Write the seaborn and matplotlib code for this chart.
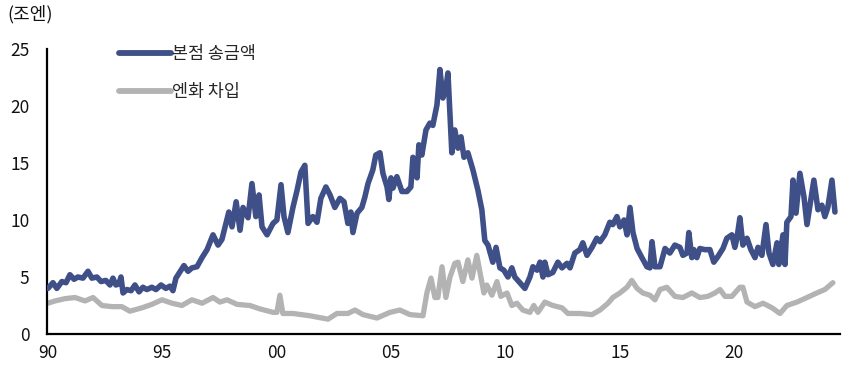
import matplotlib
matplotlib.use("Agg")
import matplotlib.pyplot as plt
import seaborn as sns
import pandas as pd

# 본점 송금액 (조엔)
remit_t = [1990.02, 1990.24, 1990.41, 1990.63, 1990.81, 1990.98, 1991.16, 1991.33, 1991.55, 1991.77,
           1991.94, 1992.16, 1992.34, 1992.55, 1992.73, 1992.86, 1992.99, 1993.12, 1993.21, 1993.30,
           1993.47, 1993.65, 1993.82, 1994.00, 1994.17, 1994.34, 1994.56, 1994.74, 1994.96, 1995.17,
           1995.35, 1995.48, 1995.61, 1995.83, 1995.96, 1996.14, 1996.31, 1996.53, 1996.75, 1996.97,
           1997.23, 1997.45, 1997.62, 1997.92, 1998.06, 1998.24, 1998.41, 1998.54, 1998.76, 1998.93,
           1999.10, 1999.24, 1999.37, 1999.59, 1999.85, 2000.02, 2000.20, 2000.33, 2000.50, 2000.72,
           2000.90, 2001.07, 2001.24, 2001.38, 2001.59, 2001.77, 2001.94, 2002.16, 2002.34, 2002.55,
           2002.77, 2002.95, 2003.12, 2003.25, 2003.34, 2003.52, 2003.73, 2003.86, 2004.00, 2004.21,
           2004.34, 2004.52, 2004.65, 2004.83, 2004.91, 2005.00, 2005.09, 2005.26, 2005.48, 2005.70,
           2005.87, 2005.96, 2006.14, 2006.22, 2006.35, 2006.53, 2006.70, 2006.83, 2007.01, 2007.14,
           2007.27, 2007.40, 2007.49, 2007.66, 2007.79, 2007.93, 2008.06, 2008.19, 2008.36, 2008.58,
           2008.80, 2008.97, 2009.10, 2009.24, 2009.45, 2009.59, 2009.76, 2009.93, 2010.11, 2010.28,
           2010.41, 2010.63, 2010.85, 2011.07, 2011.20, 2011.38, 2011.51, 2011.64, 2011.72, 2011.86,
           2012.07, 2012.29, 2012.47, 2012.69, 2012.82, 2013.03, 2013.25, 2013.38, 2013.56, 2013.78,
           2013.99, 2014.13, 2014.34, 2014.56, 2014.69, 2014.87, 2015.00, 2015.18, 2015.31, 2015.44,
           2015.57, 2015.75, 2015.96, 2016.18, 2016.31, 2016.40, 2016.53, 2016.75, 2016.97, 2017.18,
           2017.40, 2017.62, 2017.75, 2017.93, 2018.01, 2018.14, 2018.23, 2018.36, 2018.49, 2018.71,
           2018.93, 2019.10, 2019.28, 2019.50, 2019.67, 2019.89, 2020.02, 2020.11, 2020.24, 2020.37,
           2020.55, 2020.72, 2020.90, 2021.03, 2021.20, 2021.38, 2021.51, 2021.68, 2021.86, 2021.94,
           2022.12, 2022.21, 2022.29, 2022.47, 2022.56, 2022.69, 2022.86, 2023.04, 2023.17, 2023.34,
           2023.47, 2023.65, 2023.82, 2023.95, 2024.08, 2024.26, 2024.39]
remit_v = [4.0, 4.5, 4.0, 4.6, 4.5, 5.2, 4.8, 5.0, 4.9, 5.5,
           4.9, 5.0, 4.6, 4.7, 4.3, 4.9, 4.3, 4.4, 5.0, 3.6,
           3.9, 3.8, 4.3, 3.7, 4.1, 3.9, 4.1, 3.9, 4.3, 4.0,
           4.2, 3.8, 4.9, 5.6, 6.0, 5.5, 5.8, 5.9, 6.7, 7.4,
           8.7, 7.8, 8.3, 10.7, 9.4, 11.6, 9.1, 11.1, 10.2, 13.2,
           10.3, 12.2, 9.4, 8.7, 9.7, 10.0, 13.1, 10.3, 8.9, 11.1,
           12.6, 14.2, 14.8, 9.7, 10.3, 9.8, 11.9, 12.9, 12.2, 11.1,
           11.9, 11.6, 9.7, 10.7, 8.9, 10.6, 11.1, 12.0, 13.2, 14.4,
           15.7, 15.9, 14.1, 12.9, 11.8, 13.7, 12.8, 13.8, 12.5, 12.5,
           12.9, 15.5, 13.7, 16.6, 15.7, 17.9, 18.5, 18.3, 20.1, 23.2,
           20.7, 21.6, 22.9, 15.9, 17.9, 16.3, 17.3, 15.5, 15.9, 14.4,
           12.6, 10.9, 8.2, 7.8, 6.3, 7.6, 5.8, 5.6, 5.0, 5.8,
           5.0, 4.5, 4.0, 5.0, 5.9, 5.6, 6.3, 5.0, 6.3, 5.2,
           5.4, 6.3, 5.8, 6.2, 5.8, 7.1, 7.4, 8.0, 6.9, 7.6,
           8.4, 8.1, 8.7, 9.8, 9.6, 10.3, 9.4, 10.0, 8.7, 11.1,
           8.9, 7.5, 6.7, 5.9, 5.8, 8.1, 5.9, 5.9, 7.5, 7.1,
           7.8, 7.6, 6.9, 7.1, 8.9, 6.7, 7.4, 6.7, 7.5, 7.4,
           7.4, 6.3, 6.8, 7.5, 8.4, 8.7, 7.6, 8.4, 10.2, 7.8,
           8.4, 7.4, 6.7, 7.6, 6.9, 9.6, 7.1, 6.1, 8.0, 6.1,
           8.7, 6.1, 9.8, 10.3, 13.5, 10.6, 14.1, 12.0, 9.6, 11.8,
           13.5, 10.9, 11.3, 10.3, 11.1, 13.5, 10.7]

# 엔화 차입 (조엔)
loan_t = [1990.02, 1990.33, 1990.76, 1991.20, 1991.64, 1991.99, 1992.38, 1992.82, 1993.25, 1993.60,
          1994.13, 1994.56, 1995.00, 1995.44, 1995.87, 1996.31, 1996.75, 1997.23, 1997.53, 1997.84,
          1998.28, 1998.84, 1999.28, 1999.85, 2000.02, 2000.15, 2000.28, 2000.72, 2001.46, 2002.25,
          2002.64, 2003.12, 2003.43, 2003.78, 2004.39, 2004.96, 2005.39, 2005.83, 2006.40, 2006.57,
          2006.75, 2006.92, 2007.05, 2007.23, 2007.40, 2007.58, 2007.79, 2007.93, 2008.14, 2008.36,
          2008.54, 2008.75, 2008.89, 2009.06, 2009.19, 2009.41, 2009.63, 2009.80, 2010.07, 2010.28,
          2010.50, 2010.76, 2011.07, 2011.24, 2011.42, 2011.72, 2012.07, 2012.47, 2012.73, 2013.25,
          2013.78, 2014.13, 2014.48, 2014.69, 2015.00, 2015.31, 2015.52, 2015.75, 2016.00, 2016.31,
          2016.53, 2016.75, 2017.05, 2017.40, 2017.75, 2018.14, 2018.49, 2018.84, 2019.15, 2019.37,
          2019.59, 2019.89, 2020.24, 2020.37, 2020.55, 2020.90, 2021.25, 2021.64, 2021.99, 2022.29,
          2022.73, 2023.17, 2023.60, 2023.95, 2024.30]
loan_v = [2.7, 2.9, 3.1, 3.2, 2.9, 3.2, 2.5, 2.4, 2.4, 2.0,
          2.3, 2.6, 3.0, 2.7, 2.5, 3.0, 2.7, 3.2, 2.8, 3.0,
          2.6, 2.5, 2.2, 1.9, 1.9, 3.4, 1.8, 1.8, 1.6, 1.3,
          1.8, 1.8, 2.1, 1.7, 1.4, 1.9, 2.1, 1.7, 1.6, 3.6,
          4.9, 3.2, 3.2, 5.9, 3.2, 5.0, 6.2, 6.3, 4.6, 6.5,
          4.9, 6.9, 5.4, 3.6, 4.3, 3.4, 4.6, 3.3, 3.6, 2.5,
          2.7, 2.1, 1.9, 2.5, 1.9, 2.8, 2.5, 2.3, 1.8, 1.8,
          1.7, 2.1, 2.7, 3.2, 3.6, 4.1, 4.7, 4.0, 3.6, 3.4,
          3.0, 3.9, 4.1, 3.3, 3.2, 3.6, 3.2, 3.3, 3.6, 3.9,
          3.3, 3.3, 4.1, 4.1, 2.8, 2.4, 2.7, 2.3, 1.8, 2.5,
          2.8, 3.2, 3.6, 3.9, 4.5]

labels = ["본점 송금액", "엔화 차입"]
colors = ["#3f4f88", "#b3b3b3"]
x_ticks = [1990, 1995, 2000, 2005, 2010, 2015, 2020]
x_ticklabels = ["90", "95", "00", "05", "10", "15", "20"]
y_ticks = [0, 5, 10, 15, 20, 25]

sns.set_style("white")
plt.rcParams["font.family"] = ["Noto Sans CJK KR", "DejaVu Sans"]

fig = plt.figure(figsize=(8.43, 3.68), dpi=100)
ax = fig.add_axes([0.0563, 0.0924, 0.9401, 0.7744])

remit = pd.DataFrame({"t": remit_t, "v": remit_v})
loan = pd.DataFrame({"t": loan_t, "v": loan_v})
sns.lineplot(data=remit, x="t", y="v", ax=ax, color=colors[0], lw=4.0,
             label=labels[0], solid_joinstyle="round", solid_capstyle="round", zorder=3)
sns.lineplot(data=loan, x="t", y="v", ax=ax, color=colors[1], lw=3.8,
             label=labels[1], solid_joinstyle="round", solid_capstyle="round", zorder=2)

ax.set_xlim(1990, 2024.61)
ax.set_ylim(0, 25)
ax.set_xticks(x_ticks)
ax.set_xticklabels(x_ticklabels)
ax.set_yticks(y_ticks)
ax.set_xlabel("")
ax.set_ylabel("")

for side in ["top", "right"]:
    ax.spines[side].set_visible(False)
for side in ["left", "bottom"]:
    ax.spines[side].set_color("black")
    ax.spines[side].set_linewidth(1.6)

ax.tick_params(axis="both", which="major", direction="out", length=4, width=1.4,
               color="black", labelsize=12.5, labelcolor="#111111")
ax.tick_params(axis="y", pad=9)
ax.tick_params(axis="x", pad=3)

leg = ax.legend(loc="upper left", bbox_to_anchor=(0.07, 1.07), frameon=False,
                fontsize=12.5, handlelength=3.0, handletextpad=0.1, labelspacing=1.15)
for line in leg.get_lines():
    line.set_linewidth(4.2)
    line.set_solid_capstyle("round")

fig.text(0.009, 0.962, "(조엔)", fontsize=13, ha="left", va="center", color="#111111")

fig.savefig("out.png", dpi=100)
